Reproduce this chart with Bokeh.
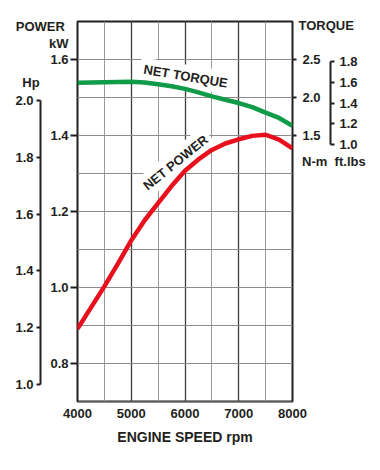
from bokeh.plotting import figure
from bokeh.models import (Range1d, LinearAxis, SingleIntervalTicker, FixedTicker,
                          NumeralTickFormatter, Label)
from bokeh.embed import file_html
from bokeh.resources import INLINE

# ---- data ----
rpm = [4000, 4250, 4500, 4750, 5000, 5250, 5500, 5750, 6000, 6250, 6500,
       6750, 7000, 7250, 7500, 7750, 8000]
power_kw = [0.891, 0.947, 1.003, 1.062, 1.124, 1.177, 1.222, 1.267, 1.307,
            1.337, 1.362, 1.379, 1.390, 1.399, 1.402, 1.389, 1.366]
torque_nm = [2.193, 2.197, 2.201, 2.205, 2.207, 2.197, 2.175, 2.148, 2.113,
             2.068, 2.015, 1.971, 1.927, 1.873, 1.801, 1.731, 1.628]

x_ticks = [4000, 5000, 6000, 7000, 8000]
kw_ticks = [0.8, 1.0, 1.2, 1.4, 1.6]
hp_ticks = [1.0, 1.2, 1.4, 1.6, 1.8, 2.0]
nm_ticks = [1.5, 2.0, 2.5]
ft_ticks = [1.0, 1.2, 1.4, 1.6, 1.8]

KW_RANGE = (0.7, 1.7)
KW_PER_HP = 0.7457
NM_RANGE = (-2.0, 3.0)
FT_RANGE = (-1.466, 2.184)

FONT = "Liberation Sans"
INK = "#231f20"
GREEN = "#0f9b48"
RED = "#e8101c"
NB = "\u00a0"  # non-breaking space used as padding

W, H = 376, 464
FL, FR, FT, FB = 77, 292, 21, 401  # frame edges in figure pixels

p = figure(width=W, height=H, output_backend="svg", toolbar_location=None,
           x_range=Range1d(4000, 8000), y_range=Range1d(*KW_RANGE),
           min_border_left=FL, min_border_right=W - FR,
           min_border_top=FT, min_border_bottom=H - FB)
p.title.visible = False
p.background_fill_color = "white"
p.border_fill_color = "white"
p.outline_line_color = INK
p.outline_line_width = 2

p.extra_y_ranges = {
    "hp": Range1d(KW_RANGE[0] / KW_PER_HP, KW_RANGE[1] / KW_PER_HP),
    "nm": Range1d(*NM_RANGE),
    "ft": Range1d(*FT_RANGE),
}

# grids
p.xgrid.ticker = SingleIntervalTicker(interval=1000, num_minor_ticks=2)
p.xgrid.grid_line_color = "#3c3c3c"
p.xgrid.grid_line_width = 1.3
p.xgrid.minor_grid_line_color = "#9a9a9a"
p.xgrid.minor_grid_line_width = 1
p.ygrid.ticker = SingleIntervalTicker(interval=0.1)
p.ygrid.grid_line_color = "#8c8c8c"
p.ygrid.grid_line_width = 1


def style_axis(ax, tick_out, standoff, line=True):
    ax.major_label_text_font = FONT
    ax.major_label_text_font_style = "bold"
    ax.major_label_text_font_size = "13px"
    ax.major_label_text_color = INK
    ax.major_tick_in = 0
    ax.major_tick_out = tick_out
    ax.major_tick_line_color = INK
    ax.major_tick_line_width = 2
    ax.minor_tick_line_color = None
    ax.major_label_standoff = standoff
    ax.axis_line_color = INK if line else None
    ax.axis_line_width = 2


def fmt(v):
    return f"{v:.1f}"


# x axis
xa = p.xaxis[0]
xa.ticker = FixedTicker(ticks=x_ticks)
style_axis(xa, 0, 7, line=False)
xa.axis_label = "ENGINE SPEED rpm"
xa.axis_label_text_font = FONT
xa.axis_label_text_font_style = "bold"
xa.axis_label_text_font_size = "14px"
xa.axis_label_text_color = INK
xa.axis_label_standoff = 8

# kW axis (frame left); leading padding widens its panel so the Hp axis sits further out
ka = p.yaxis[0]
ka.ticker = FixedTicker(ticks=kw_ticks)
ka.major_label_overrides = {v: NB * 2 + fmt(v) for v in kw_ticks}
style_axis(ka, 7, 2, line=False)

# Hp axis (outer left)
ha = LinearAxis(y_range_name="hp", ticker=FixedTicker(ticks=hp_ticks),
                formatter=NumeralTickFormatter(format="0.0"), bounds=(1.0, 2.0))
style_axis(ha, 4, 3)
p.add_layout(ha, "left")

# N-m axis (frame right); trailing padding widens its panel
na = LinearAxis(y_range_name="nm", ticker=FixedTicker(ticks=nm_ticks))
na.major_label_overrides = {v: fmt(v) + NB * 2 for v in nm_ticks}
style_axis(na, 4, 6, line=False)
p.add_layout(na, "right")

# ft.lbs axis (outer right)
fa = LinearAxis(y_range_name="ft", ticker=FixedTicker(ticks=ft_ticks),
                formatter=NumeralTickFormatter(format="0.0"), bounds=(1.0, 1.8))
style_axis(fa, 4, 5)
p.add_layout(fa, "right")


# helpers: figure pixel -> data coordinates (for text placement only)
def dx(px):
    return 4000 + (px - FL) / (FR - FL) * 4000


def dy(py):
    return round(KW_RANGE[1] - (py - FT) / (FB - FT) * (KW_RANGE[1] - KW_RANGE[0]), 4)


def add_text(text, px, py, align="left", angle=0, size="13px", bg=None, level="underlay"):
    lab = Label(x=dx(px), y=dy(py), text=text, text_align=align,
                text_baseline="middle", angle=angle, angle_units="deg",
                text_font=FONT, text_font_style="bold", text_font_size=size,
                text_color=INK, level=level)
    if bg:
        lab.background_fill_color = bg
        lab.padding = 4
    p.add_layout(lab)


def add_title_axis(side, titles, edge_px, outer_px):
    """Titles outside the frame, drawn as the labels of a tick-less axis that is
    stacked outermost on a side.  outer_px = where that axis sits (outer edge of
    the stacked axes); edge_px = the text edge (right edge on the left side,
    left edge on the right side)."""
    ticks = [dy(py) for _, py in titles]
    ax = LinearAxis(ticker=FixedTicker(ticks=ticks),
                    major_label_overrides={t: txt for t, (txt, _) in zip(ticks, titles)})
    if side == "left":
        standoff = outer_px - edge_px
    else:
        standoff = edge_px - outer_px
    style_axis(ax, 0, int(round(standoff)), line=False)
    ax.major_tick_line_color = None
    p.add_layout(ax, side)


# curve labels (white boxes behind them, under the curves)
add_text("NET  TORQUE", 187, 76, align="center", angle=-9.5, bg="white")
add_text("NET POWER", 175, 162, align="center", angle=39, bg="white")

# curves
p.line(rpm, torque_nm, y_range_name="nm", line_color=GREEN, line_width=4.5)
p.line(rpm, power_kw, line_color=RED, line_width=4.5)

# axis titles (outside the frame)
LEFT_OUTER = 13     # outer edge of kW + Hp axis panels
RIGHT_OUTER = 360   # outer edge of N-m + ft.lbs axis panels
add_title_axis("left", [("POWER" + NB, 26), ("kW", 43.5), ("Hp" + NB * 8, 82)],
               69, LEFT_OUTER)
add_title_axis("right", [("TORQUE", 25), (NB + "N-m" + NB * 2 + "ft.lbs", 161)],
               298, RIGHT_OUTER)

open("out.html", "w").write(file_html(p, INLINE))
